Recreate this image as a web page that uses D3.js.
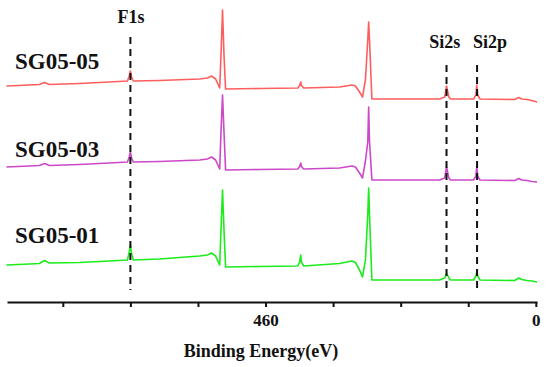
<!DOCTYPE html>
<html>
<head>
<meta charset="utf-8">
<script src="https://cdn.jsdelivr.net/npm/d3@7"></script>
<style>
  html, body { margin: 0; padding: 0; background: #fff; }
  svg { display: block; }
</style>
</head>
<body>
<svg id="chart" width="550" height="367"></svg>
<script>
// Binding energy (eV), shared by all spectra
const energies = [901, 862, 845, 836, 828, 777, 726, 695, 692, 690, 688, 685, 641, 572, 559, 552, 545, 538, 535.8, 533.2, 530.7, 528,
  470, 405, 402, 400, 399, 395, 334, 313, 307, 300, 295, 290, 286, 284.5, 283, 279, 232, 164, 155, 152, 148, 145,
  106, 102, 100.5, 99, 95, 36, 29, 24, 15, 7, -2];

// Stacked intensities (a.u.)
const sg0505 = [216, 217, 217.5, 219.5, 217.5, 218.5, 220, 221, 226, 231, 225, 221, 221.5, 223, 224, 226, 223, 214, 247, 292, 247, 213,
  213.5, 214, 216.5, 220, 216.5, 214, 215, 217, 216, 210, 205, 222, 262, 280, 262, 203, 203, 203, 205, 216, 205, 203,
  203, 207, 217, 207, 203, 202.5, 204.5, 203, 202.5, 201.5, 200];
const sg0503 = [135, 136, 136.5, 138.5, 136.5, 137.5, 139, 140, 145, 150, 144, 140, 140.5, 142, 143, 145, 142, 133, 170, 207, 170, 132,
  132.5, 133, 135.5, 139, 135.5, 133, 134, 136, 135, 129, 124, 141, 160, 195, 160, 122, 122, 122, 124, 135, 124, 122,
  122, 126, 136, 126, 122, 121.5, 123.5, 122, 121.5, 120.5, 120];
const sg0501 = [37, 38, 38.5, 41.5, 39, 39.5, 41, 42, 50, 57, 48, 42, 43, 46, 47, 49, 46, 37, 72, 112, 72, 35,
  35.5, 36, 40, 47, 40, 36, 38.5, 41, 39.5, 32, 25, 42, 87, 114, 87, 22, 22, 22, 24, 29, 24, 22,
  22, 26, 30, 26, 22, 21.5, 24, 22.5, 21.5, 21, 20];

const seriesNames = ["SG05-05", "SG05-03", "SG05-01"];
const seriesColors = ["#ff5e5e", "#cc48c8", "#1cec1c"];
const seriesValues = [sg0505, sg0503, sg0501];
const seriesLabelLevel = [233, 145, 59];

const peakLabels = ["F1s", "Si2s", "Si2p"];
const peakEnergies = [690, 152, 100];
const peakLabelEnergies = [689, 155, 78];
const peakLineTop = [265, 237, 237];
const peakLabelLevel = [279, 254, 254];

const tickValues = [805, 690, 575, 460, 345, 230, 115, 0];
const tickLabels = ["", "", "", "460", "", "", "", "0"];
const xTitle = "Binding Energy(eV)";

const svg = d3.select("#chart");
const font = "'Liberation Serif', 'Times New Roman', serif";

const x = d3.scaleLinear().domain([900, -2]).range([7, 537]);
const y = d3.scaleLinear().domain([0, 300]).range([302, 2]);

// spectra
const line = d3.line().x(d => x(d[0])).y(d => y(d[1]));
seriesValues.forEach((vals, i) => {
  svg.append("path")
    .datum(energies.map((e, k) => [e, vals[k]]))
    .attr("d", line)
    .attr("fill", "none")
    .attr("stroke", seriesColors[i])
    .attr("stroke-width", 1.6)
    .attr("stroke-linejoin", "round");
  svg.append("text")
    .attr("x", 15)
    .attr("y", y(seriesLabelLevel[i]))
    .attr("font-family", font)
    .attr("font-weight", "bold")
    .attr("font-size", 23)
    .attr("fill", "#111")
    .text(seriesNames[i]);
});

// peak markers
peakEnergies.forEach((e, i) => {
  svg.append("line")
    .attr("x1", x(e)).attr("x2", x(e))
    .attr("y1", y(peakLineTop[i])).attr("y2", y(12))
    .attr("stroke", "#111")
    .attr("stroke-width", 2)
    .attr("stroke-dasharray", "7,5");
  svg.append("text")
    .attr("x", x(peakLabelEnergies[i]))
    .attr("y", y(peakLabelLevel[i]))
    .attr("text-anchor", "middle")
    .attr("font-family", font)
    .attr("font-weight", "bold")
    .attr("font-size", 18)
    .attr("fill", "#111")
    .text(peakLabels[i]);
});

// axis
const axis = d3.axisBottom(x)
  .tickValues(tickValues)
  .tickFormat((d, i) => tickLabels[i])
  .tickSizeInner(5)
  .tickSizeOuter(0)
  .tickPadding(7);
const g = svg.append("g").attr("transform", `translate(0,${y(0)})`).call(axis);
g.select(".domain").attr("stroke", "#111").attr("stroke-width", 2);
g.selectAll(".tick line").attr("stroke", "#111").attr("stroke-width", 2);
g.selectAll(".tick text")
  .attr("font-family", font)
  .attr("font-weight", "bold")
  .attr("font-size", 17)
  .attr("fill", "#111");

svg.append("text")
  .attr("x", 261)
  .attr("y", 357)
  .attr("text-anchor", "middle")
  .attr("font-family", font)
  .attr("font-weight", "bold")
  .attr("font-size", 18)
  .attr("fill", "#111")
  .text(xTitle);
</script>
</body>
</html>
